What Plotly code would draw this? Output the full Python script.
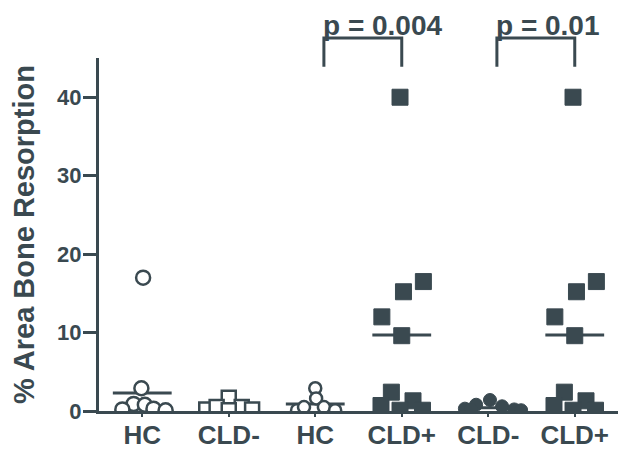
import plotly.graph_objects as go

# ---- data ----
categories = ["HC", "CLD-", "HC", "CLD+", "CLD-", "CLD+"]

g1_hc_vals = [17.0, 2.9, 0.9, 0.8, 0.2, 0.3, 0.1]
g1_hc_jit = [0.01, -0.01, -0.10, 0.03, -0.23, 0.13, 0.27]

g2_cldm_vals = [1.7, 0.2, 0.5, 0.5, 0.2, 0.1]
g2_cldm_jit = [0.0, -0.26, -0.14, 0.15, 0.27, 0.0]

g3_hc_vals = [2.9, 1.6, 0.1, 0.5, 0.5, 0.1]
g3_hc_jit = [0.0, 0.01, -0.21, -0.13, 0.10, 0.23]

g4_cldp_vals = [40.0, 16.5, 15.2, 12.0, 9.6, 2.4, 0.7, 1.3, 0.1, 0.1]
g4_cldp_jit = [-0.02, 0.25, 0.02, -0.23, 0.0, -0.12, -0.24, 0.13, -0.02, 0.24]

g5_cldm_vals = [1.4, 0.8, 0.6, 0.3, 0.2, 0.2, 0.1]
g5_cldm_jit = [0.02, -0.14, 0.16, -0.27, 0.30, -0.20, 0.38]

g6_cldp_vals = [40.0, 16.5, 15.2, 12.0, 9.6, 2.4, 0.7, 1.3, 0.1, 0.1]
g6_cldp_jit = [-0.02, 0.25, 0.02, -0.23, 0.0, -0.12, -0.24, 0.13, -0.02, 0.24]

group_means = [2.3, 0.9, 0.9, 9.7, 0.4, 9.7]

comparisons = [(3, 4, "p = 0.004"), (5, 6, "p = 0.01")]

# ---- styling ----
C = "#3a4950"
FONT = "Liberation Sans"

fig = go.Figure()

# mean lines
for i, m in enumerate(group_means):
    pos = i + 1
    fig.add_trace(go.Scatter(x=[pos - 0.34, pos + 0.34], y=[m, m], mode="lines",
                             line=dict(color=C, width=3), hoverinfo="skip"))

groups = [
    (1, g1_hc_vals, g1_hc_jit, "circle", "white", 14),
    (2, g2_cldm_vals, g2_cldm_jit, "square", "white", 14),
    (3, g3_hc_vals, g3_hc_jit, "circle", "white", 12),
    (4, g4_cldp_vals, g4_cldp_jit, "square", C, 16),
    (5, g5_cldm_vals, g5_cldm_jit, "circle", C, 13),
    (6, g6_cldp_vals, g6_cldp_jit, "square", C, 16),
]
for pos, vals, jit, sym, fill, size in groups:
    fig.add_trace(go.Scatter(
        x=[pos + j for j in jit], y=vals, mode="markers",
        marker=dict(symbol=sym, size=size, color=fill,
                    line=dict(color=C, width=2.5 if fill == "white" else 1)),
    ))

# significance brackets
for a, b, label in comparisons:
    xa, xb = a + 0.1, b
    fig.add_shape(type="path", xref="x", yref="paper",
                  path=f"M {xa},0.975 L {xa},1.057 L {xb},1.057 L {xb},0.975",
                  line=dict(color=C, width=3))
    fig.add_annotation(x=xa - 0.03, y=1.043, xref="x", yref="paper", text=label,
                       showarrow=False, xanchor="left", yanchor="bottom",
                       font=dict(family=FONT, size=28, color=C, weight="bold"))

fig.update_layout(
    width=620, height=454,
    margin=dict(l=91, r=10, t=50, b=51),
    paper_bgcolor="white", plot_bgcolor="white",
    showlegend=False,
    xaxis=dict(range=[0.5, 6.5], tickvals=[1, 2, 3, 4, 5, 6], ticktext=categories,
               showline=True, linecolor=C, linewidth=3, ticks="outside",
               ticklen=3, tickwidth=2, tickcolor=C, showgrid=False, zeroline=False,
               ticklabelstandoff=-4,
               tickfont=dict(family=FONT, size=26, color=C, weight="bold")),
    yaxis=dict(range=[0, 45], tickvals=[0, 10, 20, 30, 40],
               showline=True, linecolor=C, linewidth=3, ticks="outside",
               ticklen=13, tickwidth=3, tickcolor=C, showgrid=False, zeroline=False,
               ticklabelstandoff=-3,
               tickfont=dict(family=FONT, size=22, color=C, weight="bold"),
               title=dict(text="% Area Bone Resorption", standoff=14,
                          font=dict(family=FONT, size=29, color=C, weight="bold"))),
)

fig.write_html("out.html")
